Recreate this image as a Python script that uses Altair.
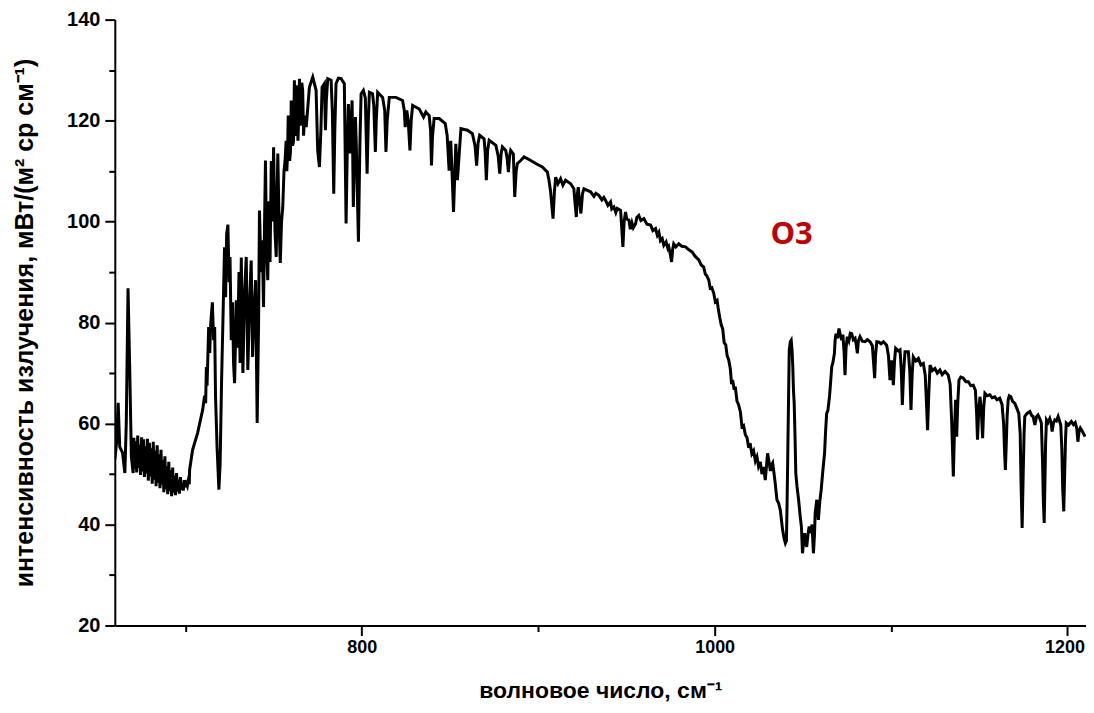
import altair as alt
import pandas as pd

# --- spectrum: [wavenumber cm-1, intensity mW/(m2 sr cm-1)] ---
seg_660_702 = [
    [660.0, 52.8], [661.0, 56.2], [661.9, 64.1], [662.8, 55.4], [664.4, 54.2], [665.7, 50.2],
    [666.5, 60.0], [667.5, 86.8], [668.5, 70.0], [669.4, 53.4], [670.4, 50.2],
    [670.8, 57.2], [671.3, 51.0], [671.9, 56.5], [672.4, 50.3], [673.0, 57.6], [673.5, 51.2],
    [674.1, 55.8], [674.6, 49.8], [675.2, 57.3], [675.7, 50.5], [676.3, 56.9], [676.8, 49.4],
    [677.4, 55.5], [677.9, 50.1], [678.5, 57.0], [679.0, 48.7], [679.6, 56.2], [680.1, 49.5],
    [680.7, 55.1], [681.2, 48.1], [681.8, 56.4], [682.3, 48.9], [682.9, 54.6], [683.4, 47.6],
    [684.0, 55.7], [684.5, 48.3], [685.1, 53.9], [685.6, 47.2], [686.2, 54.8], [686.7, 47.9],
    [687.3, 52.8], [687.8, 46.4], [688.4, 53.5], [688.9, 47.0], [689.5, 51.6], [690.0, 46.0],
    [690.6, 52.4], [691.1, 46.6], [691.7, 50.8], [692.2, 45.6], [692.8, 51.3], [693.3, 46.3],
    [693.9, 49.7], [694.4, 45.8], [695.0, 50.2], [695.5, 46.5], [696.1, 48.9], [696.6, 46.1],
    [697.2, 49.4], [697.7, 46.9], [698.3, 48.3], [698.8, 46.7], [699.4, 48.8], [700.0, 47.4],
    [700.5, 48.1], [701.1, 47.6], [701.6, 48.6], [702.2, 48.0],
]
seg_702_722 = [
    [702.4, 50.8], [704.1, 54.8], [707.0, 58.2], [708.1, 60.0], [709.8, 62.7], [710.9, 65.5],
    [711.5, 64.0], [711.9, 71.2], [712.3, 67.5], [713.2, 79.1], [713.8, 74.0], [714.3, 79.5],
    [715.3, 84.0], [716.0, 76.5], [716.6, 79.1], [717.1, 65.3], [718.0, 55.0], [719.0, 46.9],
    [719.7, 52.0], [720.5, 68.0], [721.3, 80.5],
]
seg_722_768 = [
    [722.2, 94.9], [722.8, 85.0], [723.4, 97.5], [724.1, 99.4], [724.8, 88.0], [725.3, 93.0],
    [726.0, 76.5], [726.8, 84.0], [727.3, 72.0], [727.9, 68.0], [728.9, 84.4], [729.6, 75.0],
    [730.4, 90.0], [731.0, 72.0], [731.7, 92.9], [732.6, 70.0], [733.6, 86.0], [734.5, 93.0],
    [735.4, 70.6], [736.4, 84.0], [737.3, 92.3], [738.1, 73.2], [738.9, 82.0], [739.8, 88.4],
    [740.7, 60.1], [741.5, 80.0], [742.0, 102.2], [742.9, 90.0], [743.6, 96.3], [744.3, 83.1],
    [744.9, 100.0], [745.4, 112.1], [746.0, 95.0], [746.7, 88.4], [747.4, 104.0], [748.0, 92.0],
    [748.7, 112.0], [749.4, 100.0], [750.0, 114.7], [750.8, 98.0], [751.5, 93.0], [752.0, 105.0],
    [752.4, 113.5], [753.1, 100.0], [753.8, 91.8], [754.5, 100.0], [755.2, 102.8], [755.9, 110.0],
    [756.5, 112.0], [757.1, 116.0], [757.5, 110.0], [757.9, 113.0], [758.3, 121.0], [758.7, 120.0],
    [759.1, 112.0], [759.6, 114.0], [760.0, 124.0], [760.4, 123.0], [760.8, 115.0], [761.3, 116.0],
    [761.8, 128.0], [762.2, 117.0], [762.7, 118.0], [763.1, 127.0], [763.5, 126.0], [763.8, 116.0],
    [764.1, 119.0], [764.7, 128.3], [765.1, 119.0], [765.5, 121.0], [766.0, 127.5], [766.5, 126.0],
    [767.0, 117.0], [767.6, 121.0],
]
seg_768_867 = [
    [768.5, 118.7], [770.3, 126.6], [772.2, 128.6], [774.1, 126.0], [775.0, 114.1], [776.0, 110.8],
    [776.8, 118.0], [777.5, 126.6], [778.8, 127.3], [779.4, 118.1], [779.9, 124.0], [780.7, 128.3],
    [782.6, 128.0], [783.3, 122.0], [784.1, 105.5], [784.7, 118.0], [785.4, 127.3], [786.7, 128.4],
    [788.3, 128.3], [790.1, 127.3], [791.1, 99.6], [791.8, 115.0], [792.4, 123.3], [793.3, 113.5],
    [794.5, 124.0], [795.2, 102.9], [796.4, 120.7], [796.9, 115.0], [798.1, 96.0], [798.9, 115.0],
    [799.6, 125.3], [800.9, 126.0], [802.0, 124.5], [803.0, 109.5], [803.7, 120.0], [804.3, 125.6],
    [806.1, 125.3], [806.8, 123.0], [807.7, 113.8], [808.2, 120.0], [809.0, 125.6], [811.8, 124.6],
    [813.0, 122.0], [813.7, 113.8], [814.4, 120.0], [815.6, 124.6], [819.4, 124.6], [823.1, 124.0],
    [824.1, 122.0], [824.6, 118.7], [825.5, 122.0], [826.3, 120.0], [827.3, 114.1], [828.0, 120.0],
    [828.8, 123.0], [832.6, 122.3], [835.0, 120.7], [836.3, 121.7], [838.2, 121.0], [839.0, 118.0],
    [839.5, 111.1], [840.1, 117.0], [841.0, 120.4], [843.9, 120.4], [847.3, 119.4], [848.4, 117.0],
    [849.5, 110.1], [850.4, 116.0], [850.9, 112.0], [852.0, 101.9], [853.3, 115.4], [854.2, 108.2],
    [856.2, 118.4], [859.9, 118.1], [862.7, 117.4], [864.2, 115.0], [865.1, 111.1], [865.9, 115.5],
    [866.8, 117.1],
]
seg_869_1001 = [
    [869.3, 116.4], [869.9, 114.0], [870.6, 108.2], [871.3, 114.0], [872.2, 116.1], [876.0, 115.1],
    [877.3, 113.0], [878.2, 109.5], [879.0, 113.5], [879.7, 114.8], [881.6, 114.1], [882.4, 112.5],
    [883.1, 109.8], [883.8, 113.0], [884.4, 114.1], [885.9, 113.4], [886.7, 104.9], [887.5, 110.0],
    [888.2, 111.5], [890.1, 112.1], [892.0, 112.8], [895.8, 112.1], [898.6, 111.5], [902.3, 110.8],
    [905.2, 109.8], [906.1, 108.2], [907.0, 106.0], [908.4, 100.6], [909.2, 106.0], [909.9, 108.8],
    [911.2, 107.5], [912.7, 108.5], [914.0, 107.2], [915.5, 108.2], [918.4, 107.5], [920.2, 106.5],
    [920.8, 104.0], [921.6, 100.9], [922.2, 105.5], [922.7, 106.8], [923.4, 104.0], [924.2, 101.6],
    [925.1, 105.5], [925.9, 106.5], [929.7, 105.9], [931.6, 105.0], [932.7, 105.6], [934.4, 105.2],
    [936.1, 104.3], [937.2, 104.8], [938.2, 104.2], [939.5, 103.2], [941.0, 103.9], [941.7, 102.5],
    [942.9, 102.9], [944.0, 101.8], [944.8, 102.6], [946.7, 102.2], [947.3, 99.0], [948.0, 95.0],
    [948.7, 100.0], [949.5, 101.9], [950.2, 100.5], [951.4, 100.3], [952.2, 98.5], [953.1, 99.8],
    [953.9, 98.8], [955.2, 99.6], [955.9, 100.8], [957.0, 101.2], [958.2, 100.2], [959.9, 100.6],
    [961.6, 99.5], [963.7, 99.3], [965.0, 98.2], [966.5, 98.6], [967.5, 97.3], [968.4, 97.9],
    [969.3, 96.2], [970.3, 96.6], [971.2, 95.3], [972.5, 96.0], [973.5, 94.7], [974.0, 95.0],
    [974.9, 93.5], [975.6, 92.0], [976.2, 94.5], [976.8, 95.6], [978.0, 95.0], [979.7, 95.6],
    [981.4, 95.1], [983.5, 95.0], [985.4, 94.4], [987.2, 94.0], [989.0, 93.1], [991.0, 92.4],
    [992.4, 91.4], [993.8, 91.0], [994.7, 89.6], [995.5, 89.3], [996.7, 88.4], [997.5, 86.8],
    [998.4, 86.9], [999.5, 85.8], [1000.4, 84.1], [1001.4, 84.4],
]
seg_1002_1092 = [
    [1002.0, 82.9], [1002.9, 81.0], [1003.7, 79.6], [1004.6, 78.7], [1005.4, 76.0], [1006.3, 75.6],
    [1007.1, 73.4], [1008.0, 72.6], [1008.9, 70.8], [1009.6, 67.8], [1010.2, 68.6], [1011.1, 66.7],
    [1011.7, 67.3], [1012.7, 64.4], [1013.5, 63.8], [1014.6, 62.3], [1015.5, 59.4], [1016.4, 59.6],
    [1017.4, 57.8], [1018.4, 57.2], [1019.3, 55.2], [1020.1, 56.1], [1021.1, 54.0], [1022.1, 54.6],
    [1023.1, 52.6], [1024.0, 53.4], [1024.9, 51.5], [1025.9, 52.4], [1026.8, 50.0], [1027.8, 51.4],
    [1028.7, 48.8], [1029.5, 52.0], [1030.0, 54.1], [1030.8, 52.5], [1031.6, 50.6], [1032.3, 51.8],
    [1032.9, 52.2], [1033.7, 50.0], [1034.4, 48.0], [1035.3, 44.9], [1036.3, 44.2], [1037.2, 42.9],
    [1038.0, 40.5], [1038.5, 39.0], [1039.4, 37.2], [1040.1, 36.3], [1040.7, 36.8], [1041.1, 45.0],
    [1041.5, 54.8], [1041.9, 65.0], [1042.3, 74.6], [1042.9, 76.2], [1043.4, 76.5], [1043.9, 74.5],
    [1044.3, 71.3], [1044.7, 66.5], [1045.1, 64.0], [1045.6, 57.0], [1046.0, 50.2], [1046.7, 47.5],
    [1047.6, 44.9], [1048.5, 41.6], [1049.2, 39.5], [1049.8, 34.3], [1050.4, 36.5], [1051.0, 38.3],
    [1051.6, 36.2], [1052.2, 35.6], [1052.9, 38.0], [1053.6, 39.6], [1054.3, 38.3], [1055.2, 40.0],
    [1056.0, 34.3], [1056.6, 38.0], [1057.0, 42.3], [1057.9, 44.9], [1058.8, 40.9], [1059.6, 44.5],
    [1060.4, 46.9], [1061.3, 50.5], [1062.3, 54.1], [1062.9, 58.5], [1063.5, 62.0], [1064.2, 62.6],
    [1065.1, 65.3], [1065.7, 68.0], [1066.4, 71.3], [1067.0, 72.0], [1067.9, 73.9], [1068.3, 76.5],
    [1068.8, 77.8], [1069.6, 76.9], [1070.5, 78.8], [1071.3, 77.4], [1072.0, 76.5], [1072.7, 77.6],
    [1073.4, 74.0], [1073.9, 69.6], [1074.5, 75.0], [1075.2, 77.2], [1076.1, 76.4], [1076.9, 77.9],
    [1077.7, 77.8], [1078.6, 76.6], [1079.6, 76.9], [1080.3, 75.6], [1080.9, 73.9], [1081.5, 76.4],
    [1082.4, 77.2], [1083.7, 76.3], [1085.2, 76.2], [1086.6, 76.6], [1088.1, 76.2], [1089.4, 75.4],
    [1090.0, 72.5], [1090.7, 69.0], [1091.2, 73.5], [1091.9, 76.2],
]
seg_1093_1210 = [
    [1093.2, 76.1], [1094.3, 75.8], [1095.7, 76.2], [1097.5, 75.5], [1098.5, 73.5], [1099.4, 68.6],
    [1100.2, 72.5], [1100.7, 71.0], [1101.3, 67.6], [1102.0, 72.5], [1102.6, 74.9], [1104.1, 74.4],
    [1105.1, 74.6], [1105.8, 70.5], [1106.4, 63.7], [1107.1, 70.0], [1107.9, 74.2], [1109.8, 74.2],
    [1110.6, 70.5], [1111.3, 62.7], [1112.0, 70.0], [1112.6, 73.2], [1114.0, 72.4], [1115.5, 72.9],
    [1116.9, 71.6], [1118.3, 71.9], [1119.4, 69.5], [1120.2, 63.0], [1120.7, 58.7], [1121.4, 66.0],
    [1122.1, 71.6], [1123.4, 70.5], [1124.9, 70.9], [1126.2, 70.0], [1127.7, 70.6], [1129.0, 69.7],
    [1130.6, 70.3], [1132.4, 69.6], [1133.5, 67.8], [1134.4, 60.0], [1135.3, 49.5], [1135.9, 58.0],
    [1136.6, 64.7], [1137.2, 57.4], [1137.8, 64.0], [1138.5, 68.6], [1139.5, 69.2], [1140.9, 69.0],
    [1142.4, 68.3], [1143.8, 68.3], [1145.2, 67.5], [1146.6, 67.6], [1147.8, 66.6], [1148.5, 62.0],
    [1149.0, 56.8], [1149.7, 62.5], [1150.4, 65.3], [1151.1, 63.0], [1151.9, 57.1], [1152.5, 63.0],
    [1153.2, 66.0], [1154.5, 65.5], [1156.0, 65.7], [1157.3, 65.1], [1158.8, 65.3], [1160.1, 64.7],
    [1161.6, 65.0], [1162.9, 63.8], [1163.8, 60.0], [1164.4, 54.0], [1164.8, 50.8], [1165.3, 56.0],
    [1165.8, 61.5], [1166.4, 64.7], [1167.0, 65.5], [1167.9, 65.3], [1168.9, 64.4], [1170.2, 64.0],
    [1171.2, 63.1], [1172.4, 62.0], [1173.2, 58.0], [1173.7, 48.0], [1174.3, 39.3], [1174.9, 50.0],
    [1175.4, 58.0], [1175.8, 61.4], [1177.1, 62.0], [1178.7, 62.4], [1179.7, 61.6], [1180.5, 61.4],
    [1181.5, 59.7], [1182.4, 61.3], [1183.3, 61.7], [1184.3, 61.0], [1185.2, 60.1], [1185.9, 52.0],
    [1186.3, 45.0], [1186.8, 40.3], [1187.2, 48.0], [1187.6, 56.0], [1188.1, 60.7], [1189.0, 60.2],
    [1190.0, 61.0], [1190.7, 60.2], [1191.3, 58.4], [1192.0, 60.0], [1192.8, 60.7], [1193.7, 60.5],
    [1194.7, 61.4], [1195.5, 60.5], [1196.2, 59.7], [1196.8, 55.0], [1197.3, 47.0], [1197.9, 42.6],
    [1198.4, 50.0], [1198.9, 57.0], [1199.3, 60.1], [1200.6, 59.7], [1202.2, 60.4], [1203.4, 59.8],
    [1204.4, 60.2], [1205.3, 59.0], [1205.9, 56.4], [1206.6, 58.5], [1207.3, 59.1], [1208.2, 58.6],
    [1209.4, 57.8], [1210.0, 57.4],
]

x_major_ticks = [800, 1000, 1200]
x_minor_ticks = [700, 900, 1100]
y_major_ticks = [20, 40, 60, 80, 100, 120, 140]
y_minor_ticks = [30, 50, 70, 90, 110, 130]

label_text = ["O3"]
label_wn = [1043.6]
label_val = [97.3]

points = (seg_660_702 + seg_702_722 + seg_722_768 + seg_768_867
          + seg_869_1001 + seg_1002_1092 + seg_1093_1210)
df = pd.DataFrame(points, columns=["wn", "val"])
df["i"] = range(len(df))
lab = pd.DataFrame({"wn": label_wn, "val": label_val, "txt": label_text})

FONT = "Liberation Sans"
xscale = alt.Scale(domain=[660, 1210.5], nice=False, zero=False)
yscale = alt.Scale(domain=[20, 140], nice=False, zero=False)

line = alt.Chart(df).mark_line(color="black", strokeWidth=3, clip=True).encode(
    x=alt.X("wn:Q", scale=xscale, axis=alt.Axis(
        values=x_major_ticks, orient="bottom", grid=False, format="d",
        domainColor="black", domainWidth=2, tickColor="black", tickWidth=2, tickSize=10,
        labelFont=FONT, labelFontSize=18, labelFontWeight="bold", labelColor="black",
        labelPadding=3,
        labelOffset={"condition": {"test": "datum.value == 1200", "value": -3}, "value": 0},
        title="волновое число, см⁻¹", titleFont=FONT, titleFontSize=23,
        titleFontWeight="bold", titleColor="black", titlePadding=23)),
    y=alt.Y("val:Q", scale=yscale, axis=alt.Axis(
        values=y_major_ticks, orient="left", grid=False,
        domainColor="black", domainWidth=2, tickColor="black", tickWidth=2, tickSize=10,
        labelFont=FONT, labelFontSize=20, labelFontWeight="bold", labelColor="black",
        labelPadding=5, title="интенсивность излучения, мВт/(м² ср см⁻¹)", titleFont=FONT,
        titleFontSize=25, titleFontWeight="bold", titleColor="black", titlePadding=29)),
    order="i:Q",
)

o3 = alt.Chart(lab).mark_text(
    color="#c00000", font="Open Sans", fontSize=31, fontWeight="bold",
    align="center", baseline="middle",
).encode(
    x=alt.X("wn:Q", scale=xscale, axis=alt.Axis(
        values=x_minor_ticks, orient="bottom", grid=False, labels=False, domain=False,
        tickColor="black", tickWidth=2, tickSize=6, title="")),
    y=alt.Y("val:Q", scale=yscale, axis=alt.Axis(
        values=y_minor_ticks, orient="left", grid=False, labels=False, domain=False,
        tickColor="black", tickWidth=2, tickSize=6, title="")),
    text="txt:N",
)

chart = alt.layer(line, o3).resolve_axis(x="independent", y="independent").properties(
    width=973, height=607,
    padding={"left": 107, "top": 11, "right": 0, "bottom": 76},
    autosize=alt.AutoSizeParams(type="none"),
    background="white",
).configure_view(stroke=None)

chart.save("out.html", embed_options={"renderer": "svg", "actions": False})
